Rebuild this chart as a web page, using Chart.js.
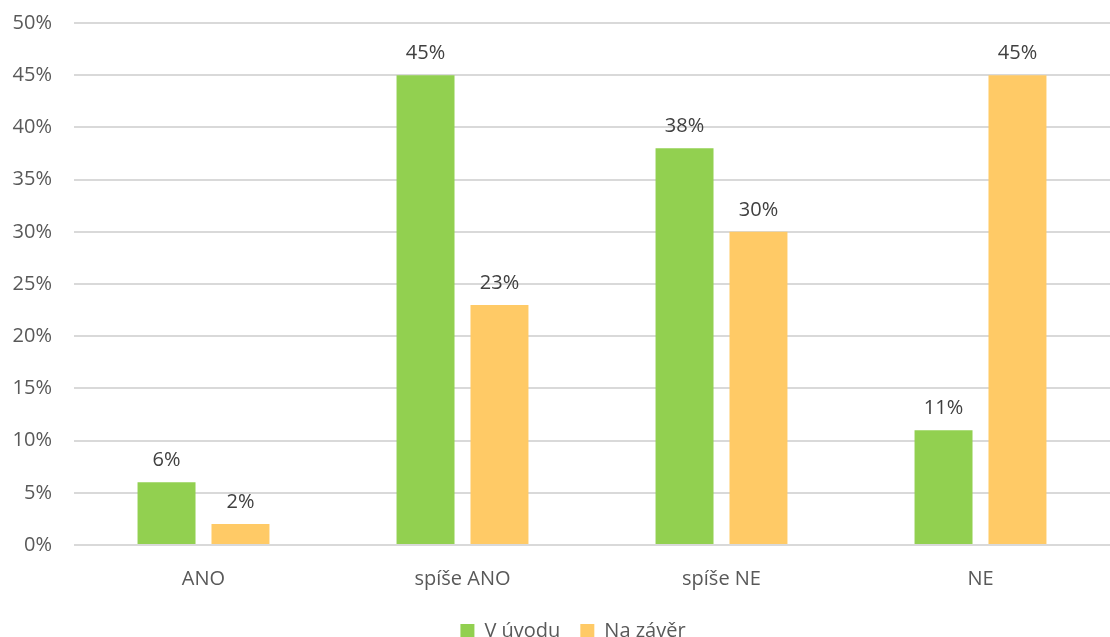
<!DOCTYPE html>
<html>
<head>
<meta charset="utf-8">
<script src="https://cdn.jsdelivr.net/npm/chart.js@4/dist/chart.umd.min.js"></script>
<style>
  html, body { margin: 0; padding: 0; background: #fff; }
  #chart { display: block; }
</style>
</head>
<body>
<canvas id="chart" width="1110" height="637"></canvas>
<script>
'use strict';

var categories = ['ANO', 'spíše ANO', 'spíše NE', 'NE'];
var vUvodu = [6, 45, 38, 11];
var naZaver = [2, 23, 30, 45];
var seriesNames = ['V úvodu', 'Na závěr'];

var fontFamily = '"Open Sans", "Noto Sans", sans-serif';
var fontSize = 20;

// writes the percentage above every bar
var valueLabels = {
    id: 'valueLabels',
    afterDatasetsDraw: function (chart) {
        var ctx = chart.ctx;
        ctx.save();
        ctx.font = fontSize + 'px ' + fontFamily;
        ctx.fillStyle = '#404040';
        ctx.textAlign = 'center';
        ctx.textBaseline = 'bottom';
        chart.data.datasets.forEach(function (ds, i) {
            chart.getDatasetMeta(i).data.forEach(function (bar, j) {
                ctx.fillText(ds.data[j] + '%', bar.x, bar.y - 12);
            });
        });
        ctx.restore();
    }
};

// nudge the legend a bit to the right, towards the plot's centre
var legendShift = {
    id: 'legendShift',
    afterLayout: function (chart) {
        if (!chart.legend) return;
        chart.legend.left += 18;
        chart.legend.right += 18;
    }
};

new Chart(document.getElementById('chart').getContext('2d'), {
    type: 'bar',
    data: {
        labels: categories,
        datasets: [
            { label: seriesNames[0], data: vUvodu, backgroundColor: '#92d050' },
            { label: seriesNames[1], data: naZaver, backgroundColor: '#ffca66' }
        ]
    },
    options: {
        responsive: false,
        animation: false,
        layout: { padding: { top: 23, bottom: -14, left: 0, right: 0 } },
        datasets: {
            bar: { barPercentage: 0.784, categoryPercentage: 0.571 }
        },
        scales: {
            x: {
                afterFit: function (scale) { scale.height = 56; },
                grid: { display: false, drawTicks: false },
                border: { display: false },
                ticks: { font: { family: fontFamily, size: fontSize }, color: '#595959', padding: 22 }
            },
            y: {
                min: 0,
                max: 50,
                afterFit: function (scale) { scale.width = 74; },
                // invisible tick marks keep the labels clear of the grid
                grid: { color: '#d9d9d9', lineWidth: 2, tickLength: 22, tickColor: 'rgba(0,0,0,0)' },
                border: { display: false },
                ticks: {
                    stepSize: 5,
                    padding: 0,
                    font: { family: fontFamily, size: fontSize },
                    color: '#595959',
                    callback: function (v) { return v + '%'; }
                }
            }
        },
        plugins: {
            legend: {
                position: 'bottom',
                labels: {
                    font: { family: fontFamily, size: fontSize },
                    color: '#595959',
                    boxWidth: 14,
                    boxHeight: 14,
                    padding: 20
                }
            },
            tooltip: { enabled: false }
        }
    },
    plugins: [valueLabels, legendShift]
});
</script>
</body>
</html>
